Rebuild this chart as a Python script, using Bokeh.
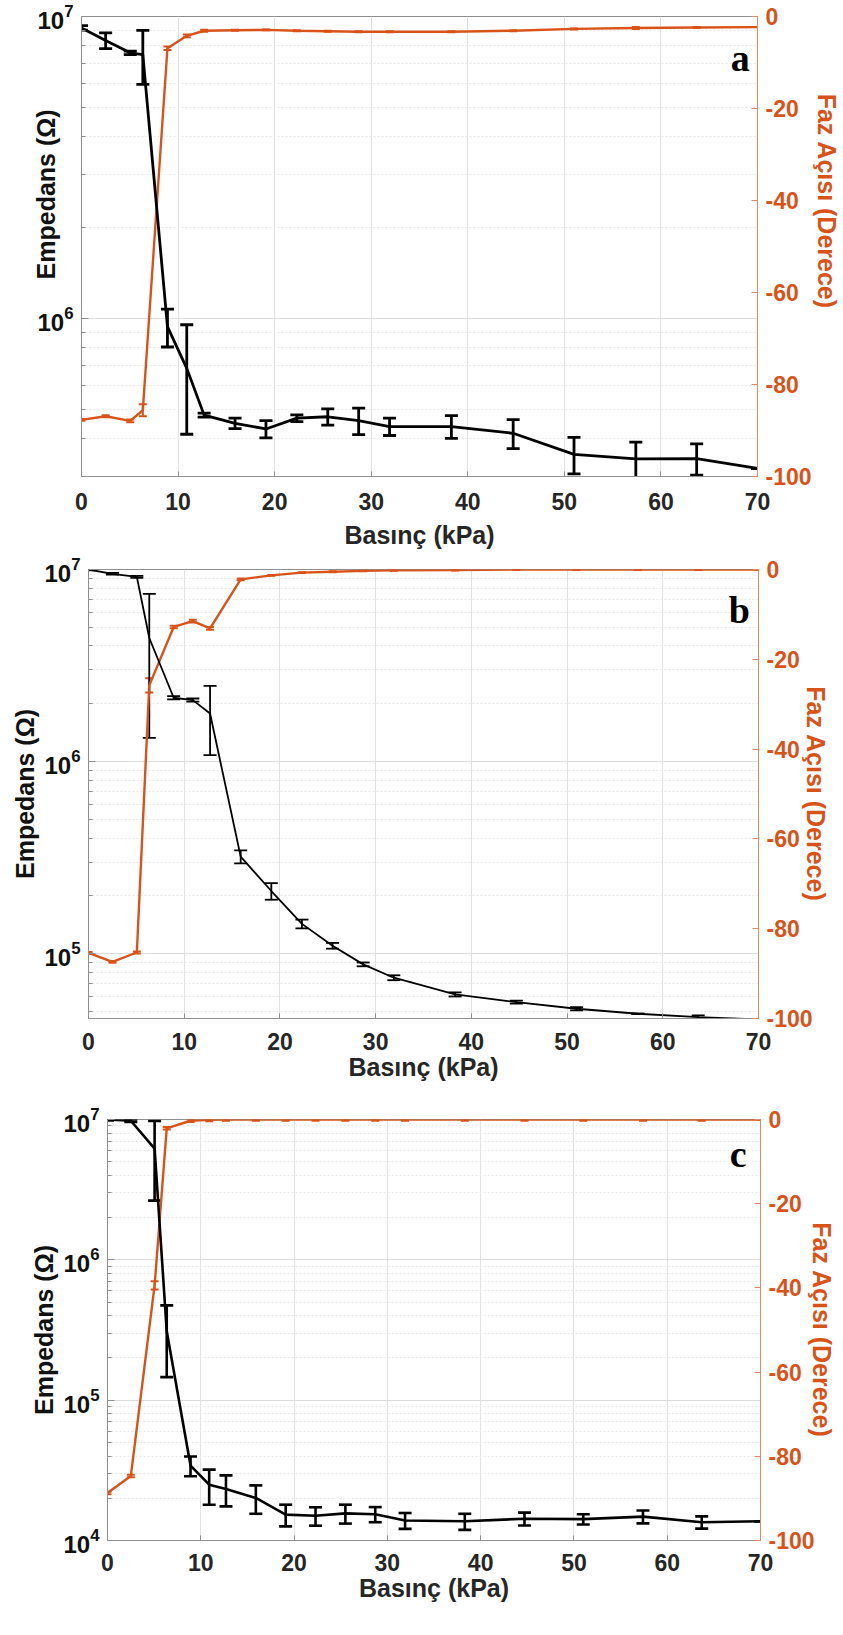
from bokeh.plotting import figure
from bokeh.models import (Range1d, LinearAxis, LinearScale, FixedTicker, LogTickFormatter,
                          Whisker, TeeHead, ColumnDataSource, Label)
from bokeh.layouts import column
from bokeh.embed import file_html
from bokeh.resources import INLINE

# ---------------- data ----------------
pressure = [0, 2.5, 5.05, 6.35, 8.9, 10.9, 12.7, 15.9, 19.1, 22.3, 25.5, 28.7,
            31.9, 38.3, 44.7, 51.0, 57.4, 63.7, 70.0]

imp_a = [9.17e6, 8.33e6, 7.58e6, 7.48e6, 9.4e5, 6.84e5, 4.79e5, 4.50e5, 4.31e5, 4.68e5,
         4.73e5, 4.59e5, 4.39e5, 4.39e5, 4.17e5, 3.55e5, 3.43e5, 3.44e5, 3.19e5]
imp_a_err = [1.6e5, 5.0e5, 1.0e5, 1.52e6, 1.35e5, 2.7e5, 7e3, 1.8e4, 2.8e4, 1.2e4,
             2.9e4, 4.6e4, 2.9e4, 3.8e4, 4.6e4, 4.9e4, 4.7e4, 4.1e4, 0]
phase_a = [-87.7, -86.9, -87.9, -85.6, -6.9, -4.2, -3.1, -3.0, -2.9, -3.1, -3.2, -3.3,
           -3.3, -3.3, -3.1, -2.7, -2.5, -2.4, -2.3]
phase_a_err = [0.2, 0.2, 0.3, 1.3, 0.4, 0.3, 0.2, 0.1, 0.1, 0.1, 0.1, 0.1, 0.1, 0.1,
               0.1, 0.1, 0.2, 0.1, 0]

imp_b = [1.0e7, 9.5e6, 9.16e6, 4.4e6, 2.15e6, 2.09e6, 1.78e6, 3.2e5, 2.12e5, 1.43e5,
         1.10e5, 8.8e4, 7.5e4, 6.14e4, 5.6e4, 5.17e4, 4.87e4, 4.68e4, 4.55e4]
imp_b_err = [1.0e5, 1.0e5, 1.0e5, 3.07e6, 4e4, 4e4, 7.0e5, 2.5e4, 2.1e4, 7.5e3,
             3.8e3, 2.0e3, 2.2e3, 1.5e3, 1.0e3, 1.0e3, 0, 1.0e3, 0]
phase_b = [-85.4, -87.4, -85.3, -25.8, -12.8, -11.5, -13.1, -2.2, -1.3, -0.7, -0.5,
           -0.3, -0.2, -0.1, 0, 0, 0, 0, 0]
phase_b_err = [0.2, 0.2, 0.2, 1.6, 0.3, 0.3, 0.3, 0.2, 0.1, 0.1, 0.1, 0.1, 0.1, 0.1,
               0.1, 0.1, 0.1, 0.1, 0]

imp_c = [1.0e7, 9.8e6, 6.2e6, 3.1e5, 3.42e4, 2.5e4, 2.33e4, 2.01e4, 1.53e4, 1.5e4,
         1.56e4, 1.54e4, 1.39e4, 1.37e4, 1.43e4, 1.42e4, 1.48e4, 1.35e4, 1.37e4]
imp_c_err = [1.5e5, 2.0e5, 3.56e6, 1.64e5, 5.5e3, 7.0e3, 5.8e3, 4.6e3, 2.7e3, 2.25e3,
             2.4e3, 1.9e3, 1.8e3, 1.8e3, 1.5e3, 1.2e3, 1.55e3, 1.35e3, 0]
phase_c = [-88.7, -84.7, -39.4, -2.1, -0.3, -0.1, 0, 0, 0, 0, 0, 0, 0, 0, 0, 0, 0, 0, 0]
phase_c_err = [0.3, 0.3, 1.0, 0.3, 0.3, 0.3, 0.3, 0.3, 0.3, 0.3, 0.3, 0.3, 0.3, 0.3,
               0.3, 0.3, 0.3, 0.3, 0]

x_ticks = [0, 10, 20, 30, 40, 50, 60, 70]
phase_ticks = [-100, -80, -60, -40, -20, 0]
phase_tick_labels = {-100: "-100", -80: "-80", -60: "-60", -40: "-40", -20: "-20", 0: "0"}

ORANGE = "#D95319"
GRAY = "#8f8f8f"
FONT = "Liberation Sans"
NBSP = "\u00a0"


def minor_list(lo_exp, hi_exp):
    out = []
    for e in range(lo_exp, hi_exp):
        for m in range(2, 10):
            out.append(m * 10 ** e)
    return out


def panel(imp, imp_err, phase, phase_err, y_lo, major, minors, letter, geo):
    (fig_h, top, frame_h, left, frame_w, right, black_w, xtick_standoff, xlab_standoff,
     ylab_standoff, rlab_standoff, lpad, rpad, letter_x, letter_y) = geo
    p = figure(width=left + frame_w + right, height=fig_h,
               y_axis_type="log", x_range=Range1d(0, 70), y_range=Range1d(y_lo, 1e7),
               output_backend="svg", toolbar_location=None,
               min_border_left=left, min_border_right=right,
               min_border_top=top, min_border_bottom=fig_h - top - frame_h)
    p.frame_align = False
    p.outline_line_color = GRAY
    p.background_fill_color = "white"
    p.border_fill_color = "white"
    p.extra_y_ranges = {"phase": Range1d(-100, 0)}
    p.extra_y_scales = {"phase": LinearScale()}

    # grids
    p.xgrid.grid_line_color = "#e2e2e2"
    p.xgrid.ticker = FixedTicker(ticks=x_ticks)
    p.ygrid.grid_line_color = "#dddddd"
    p.ygrid.minor_grid_line_color = "#e9e9e9"
    p.ygrid.minor_grid_line_dash = "2 2"

    # bottom axis
    xa = p.xaxis[0]
    xa.ticker = FixedTicker(ticks=x_ticks)
    xa.axis_label = "Basınç (kPa)"
    xa.axis_label_text_font = FONT
    xa.axis_label_text_font_style = "bold"
    xa.axis_label_text_font_size = "25px"
    xa.axis_label_text_color = "#262626"
    xa.axis_label_standoff = xlab_standoff
    xa.major_label_text_font = FONT
    xa.major_label_text_font_style = "bold"
    xa.major_label_text_font_size = "23px"
    xa.major_label_text_color = "#262626"
    xa.major_label_standoff = xtick_standoff
    xa.axis_line_color = GRAY
    xa.major_tick_line_color = GRAY
    xa.major_tick_in = 5
    xa.major_tick_out = 0
    xa.minor_tick_line_color = None

    # left log axis
    ya = p.yaxis[0]
    ya.ticker = FixedTicker(ticks=major, minor_ticks=minors)
    ya.formatter = LogTickFormatter()
    ya.major_label_text_font = FONT
    ya.major_label_text_font_style = "bold"
    ya.major_label_text_font_size = "24px"
    ya.major_label_text_color = "#111111"
    ya.major_label_standoff = 8
    ya.axis_line_color = GRAY
    ya.major_tick_line_color = GRAY
    ya.minor_tick_line_color = GRAY
    ya.major_tick_in = 7
    ya.major_tick_out = 0
    ya.minor_tick_in = 4
    ya.minor_tick_out = 0
    ya.axis_label = NBSP * lpad + "Empedans (Ω)"
    ya.axis_label_text_font = FONT
    ya.axis_label_text_font_style = "bold"
    ya.axis_label_text_font_size = "25px"
    ya.axis_label_text_color = "#111111"
    ya.axis_label_standoff = ylab_standoff

    # right phase axis
    ra = LinearAxis(y_range_name="phase", ticker=FixedTicker(ticks=phase_ticks))
    ra.major_label_overrides = phase_tick_labels
    ra.major_label_text_font = FONT
    ra.major_label_text_font_style = "bold"
    ra.major_label_text_font_size = "23px"
    ra.major_label_text_color = ORANGE
    ra.major_label_standoff = 8
    ra.axis_line_color = "#e58a60"
    ra.major_tick_line_color = "#e58a60"
    ra.major_tick_in = 6
    ra.major_tick_out = 0
    ra.minor_tick_line_color = None
    ra.axis_label = "Faz Açısı (Derece)" + NBSP * rpad
    ra.axis_label_text_font = FONT
    ra.axis_label_text_font_style = "bold"
    ra.axis_label_text_font_size = "25px"
    ra.axis_label_text_color = ORANGE
    ra.axis_label_standoff = rlab_standoff
    p.add_layout(ra, "right")

    # phase (orange)
    up = [v + e for v, e in zip(phase, phase_err)]
    lo = [v - e for v, e in zip(phase, phase_err)]
    src_p = ColumnDataSource(dict(x=pressure, y=phase, up=up, lo=lo))
    p.line("x", "y", source=src_p, y_range_name="phase", line_color=ORANGE, line_width=2.4)
    p.add_layout(Whisker(source=src_p, base="x", upper="up", lower="lo", dimension="height",
                         y_range_name="phase", line_color=ORANGE, line_width=2,
                         upper_head=TeeHead(size=8, line_color=ORANGE, line_width=2),
                         lower_head=TeeHead(size=8, line_color=ORANGE, line_width=2)))

    # impedance (black)
    up = [v + e for v, e in zip(imp, imp_err)]
    lo = [v - e for v, e in zip(imp, imp_err)]
    src_i = ColumnDataSource(dict(x=pressure, y=imp, up=up, lo=lo))
    p.line("x", "y", source=src_i, line_color="black", line_width=black_w)
    p.add_layout(Whisker(source=src_i, base="x", upper="up", lower="lo", dimension="height",
                         line_color="black", line_width=black_w,
                         upper_head=TeeHead(size=13, line_color="black", line_width=black_w),
                         lower_head=TeeHead(size=13, line_color="black", line_width=black_w)))

    # panel letter
    p.add_layout(Label(x=letter_x, y=letter_y, y_range_name="phase", text=letter,
                       text_align="right", text_baseline="alphabetic",
                       text_font="Liberation Serif", text_font_style="bold",
                       text_font_size="38px", text_color="black"))
    return p


pa = panel(imp_a, imp_a_err, phase_a, phase_a_err, 3e5, [1e6, 1e7], minor_list(5, 7), "a",
           (555, 16, 460, 81, 682, 80, 2.8, 16, 8, -26, -2, 15, 13, 69.2, -9.0))
pb = panel(imp_b, imp_b_err, phase_b, phase_b_err, 4.6e4, [1e5, 1e6, 1e7], minor_list(4, 7), "b",
           (545, 14, 449, 88, 670, 85, 1.8, 14, 0, 2, -14, 0, 0, 69.1, -9.1))
pc = panel(imp_c, imp_c_err, phase_c, phase_c_err, 1e4, [1e4, 1e5, 1e6, 1e7], minor_list(4, 7), "c",
           (535, 19, 421, 107, 653, 83, 2.6, 13, 0, 2, -10, 0, 0, 68.5, -8.1))

layout = column(pa, pb, pc, spacing=0)
open("out.html", "w").write(file_html(layout, INLINE))
